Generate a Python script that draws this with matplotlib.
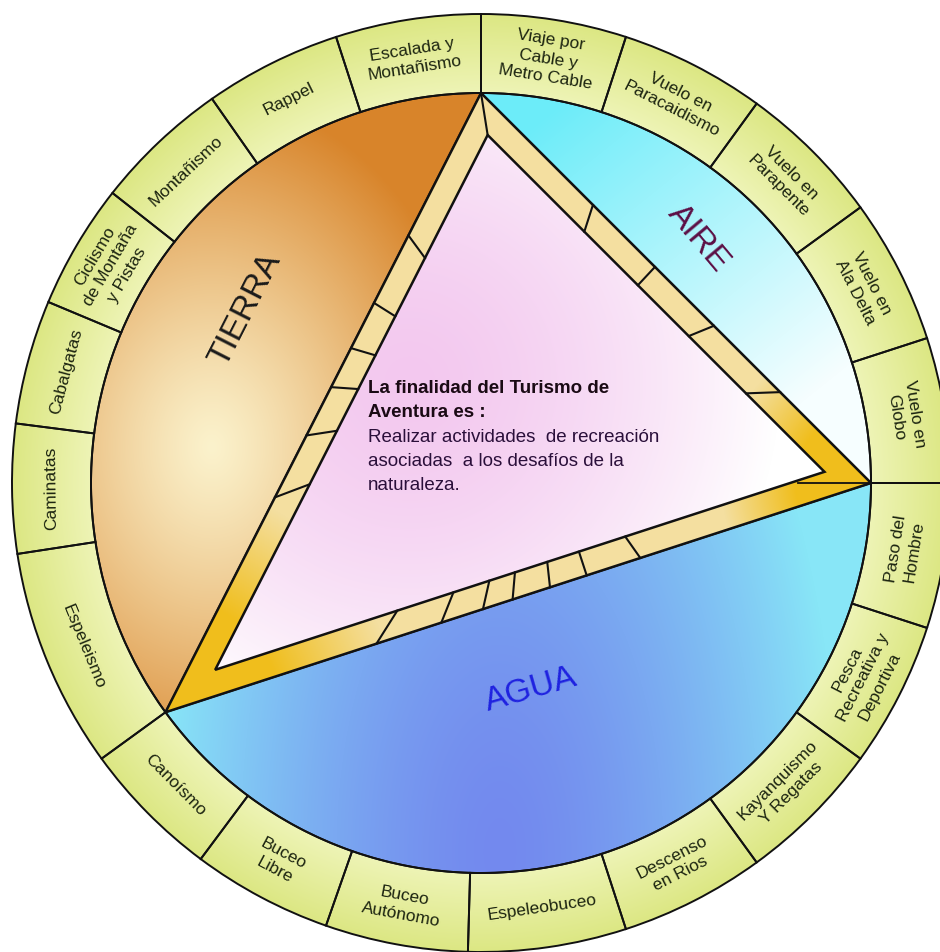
import matplotlib
matplotlib.use("Agg")
import matplotlib.pyplot as plt
from matplotlib.patches import Wedge, Polygon
from matplotlib.colors import to_rgb
import numpy as np

plt.rcParams['font.family'] = ['Liberation Sans', 'DejaVu Sans']

# activities in the outer ring, clockwise starting at 12 o'clock
activities = ["Viaje por\nCable y\nMetro Cable", "Vuelo en\nParacaidismo", "Vuelo en\nParapente",
              "Vuelo en\nAla Delta", "Vuelo en\nGlobo", "Paso del\nHombre",
              "Pesca\nRecreativa y\nDeportiva", "Kayanquismo\nY Regatas", "Descenso\nen Rios",
              "Espeleobuceo", "Buceo\nAutónomo", "Buceo\nLibre", "Canoísmo", "Espeleismo",
              "Caminatas", "Cabalgatas", "Ciclismo\nde Montaña\ny Pistas", "Montañismo",
              "Rappel", "Escalada y\nMontañismo"]
# angular size of each ring cell (degrees), same order
spans = [18, 18, 18, 18, 18, 18, 18, 18, 18, 19.6,
         17.7, 17.4, 17.3, 27.3, 16, 15.4, 15.5, 16.8, 17, 18]

elements = ["TIERRA", "AIRE", "AGUA"]
element_colors = ["#1a1a1a", "#5c0f45", "#1f22e0"]

center_bold = ["La finalidad del Turismo de", "Aventura es :"]
center_text = ["Realizar actividades  de recreación", "asociadas  a los desafíos de la", "naturaleza."]

# geometry (pixel units, y up)
W, H = 940, 952
cx, cy = 481, 469
R_out, R_in = 469, 390
band = 25

fig = plt.figure(figsize=(W / 100, H / 100), dpi=100)
ax = fig.add_axes([0, 0, 1, 1])
ax.set_xlim(0, W)
ax.set_ylim(0, H)
ax.set_aspect('equal')
ax.axis('off')

rows, cols = np.mgrid[0:H, 0:W]
xx = cols + 0.5
yy = H - (rows + 0.5)


def blend(c1, c2, t):
    t = np.clip(t, 0, 1)[..., None]
    return (1 - t) * np.array(to_rgb(c1)) + t * np.array(to_rgb(c2))


def paint(rgb, patch, z):
    ax.add_patch(patch)
    im = ax.imshow(rgb, extent=(0, W, 0, H), origin='upper', zorder=z, interpolation='bilinear')
    im.set_clip_path(patch)


def arc(a1, a2, r, n=300):
    t = np.radians(np.linspace(a1, a2, n))
    return np.column_stack([cx + r * np.cos(t), cy + r * np.sin(t)])


def on_circle(a, r):
    return np.array([cx + r * np.cos(np.radians(a)), cy + r * np.sin(np.radians(a))])


# ring background
rr = np.hypot(xx - cx, yy - cy)
ring = Wedge((cx, cy), R_out, 0, 360, width=R_out - R_in, facecolor='none', edgecolor='none')
paint(blend("#eef4b6", "#dce783", (rr - R_in) / (R_out - R_in)), ring, 1)

# ring cells + labels
bounds = 90 - np.concatenate([[0], np.cumsum(spans)])
for i, label in enumerate(activities):
    a2, a1 = bounds[i], bounds[i + 1]
    ax.add_patch(Wedge((cx, cy), R_out, a1, a2, width=R_out - R_in, facecolor='none',
                       edgecolor='#111111', lw=1.4, zorder=3))
    mid = (a1 + a2) / 2
    rot = mid - 90 if np.sin(np.radians(mid)) > -0.1 else mid + 90
    px, py = on_circle(mid, (R_in + R_out) / 2)
    ax.text(px, py, label, rotation=rot, rotation_mode='anchor', ha='center', va='center',
            multialignment='center', fontsize=12.5, color='#1c2410', linespacing=1.3, zorder=4)

# three inner regions split by the triangle (vertices sit on cell borders)
a_top, a_right, a_left = 90, 0, 90 - sum(spans[:13]) + 360
T, R, L = on_circle(a_top, R_in), on_circle(a_right, R_in), on_circle(a_left, R_in)

tierra = Polygon(arc(a_top, a_left, R_in), closed=True, facecolor='none', edgecolor='none')
dt = np.hypot((xx - 212) * 1.3, yy - 505) / 350
paint(blend("#fbf2cc", "#d8842a", dt ** 1.2), tierra, 2)

aire = Polygon(arc(a_right, a_top, R_in), closed=True, facecolor='none', edgecolor='none')
da = ((xx - 540) * 240 + (yy - 832) * (-300)) / (240 ** 2 + 300 ** 2)
paint(blend("#6cecf9", "#f6feff", da), aire, 2)

agua = Polygon(arc(a_left, 360, R_in), closed=True, facecolor='none', edgecolor='none')
dw = np.hypot((xx - 500) / 340, (yy - 100) / 700)
paint(blend("#7389ee", "#88e6f7", dw ** 1.5), agua, 2)

for patch in (tierra, aire, agua):
    ax.add_patch(Polygon(patch.get_xy(), closed=True, facecolor='none', edgecolor='#111111', lw=1.4, zorder=3))

# triangle frame (band) and inner triangle, inset about the incenter
outer = np.array([T, R, L])
side = np.array([np.linalg.norm(R - L), np.linalg.norm(L - T), np.linalg.norm(T - R)])
inc = (side[:, None] * outer).sum(axis=0) / side.sum()
area = 0.5 * abs(np.cross(R - L, T - L))
r_in = 2 * area / side.sum()
inner = inc + (outer - inc) * (r_in - band) / r_in

dg = np.minimum(np.hypot(xx - L[0], yy - L[1]) / 230, np.hypot(xx - R[0], yy - R[1]) / 150)
outer_tri = Polygon(outer, closed=True, facecolor='none', edgecolor='none')
paint(blend("#f0be1c", "#f4dfa0", (dg - 0.5) * 2), outer_tri, 5)

inner_tri = Polygon(inner, closed=True, facecolor='none', edgecolor='none')
dp = np.hypot(xx - 410, yy - 570) / 370
paint(blend("#f3c8ef", "#ffffff", dp ** 1.5), inner_tri, 6)

ax.add_patch(Polygon(outer, closed=True, facecolor='none', edgecolor='#111111', lw=1.8, zorder=7))
ax.add_patch(Polygon(inner, closed=True, facecolor='none', edgecolor='#111111', lw=1.8, zorder=7))

# block divisions on the frame
ticks = {(0, 2): [0.23, 0.339, 0.412, 0.475, 0.553, 0.653],
         (0, 1): [0.287, 0.446, 0.597, 0.767],
         (2, 1): [0.299, 0.391, 0.45, 0.492, 0.545, 0.597, 0.673]}
for (i, j), ts in ticks.items():
    for t in ts:
        p = outer[i] + t * (outer[j] - outer[i])
        q = inner[i] + t * (inner[j] - inner[i])
        ax.plot([p[0], q[0]], [p[1], q[1]], color='#111111', lw=1.5, zorder=7)
ax.plot([outer[0][0], inner[0][0]], [outer[0][1], inner[0][1]], color='#111111', lw=1.5, zorder=7)
ax.plot([outer[1][0], outer[1][0] - 73], [outer[1][1], outer[1][1]], color='#111111', lw=1.3, zorder=7)

# element names
label_pos = [(245, 642, 63), (698, 714, -50), (531, 262, 16)]
for name, col, (lx, ly, rot) in zip(elements, element_colors, label_pos):
    ax.text(lx, ly, name, rotation=rot, rotation_mode='anchor', ha='center', va='center',
            fontsize=24, color=col, zorder=8)

# centre message
y0 = 559
for k, line in enumerate(center_bold + center_text):
    bold = k < len(center_bold)
    ax.text(368, y0 - k * 24.3, line, fontsize=13.5, fontweight='bold' if bold else 'normal',
            color='#1a0a14' if bold else '#2a0f3a', ha='left', va='baseline', zorder=8)

fig.savefig('out.png', dpi=100)
